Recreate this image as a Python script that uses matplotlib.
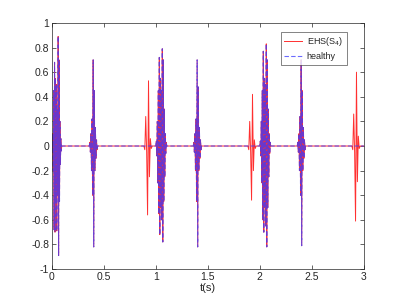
"""EHS (S4) vs healthy heart-sound waveform, MATLAB-style figure."""

import matplotlib
matplotlib.use("Agg")
import matplotlib.pyplot as plt
import numpy as np
from matplotlib.ticker import FuncFormatter

# Burst windows (s) and oscillation peaks.
# S1 bursts (shared by both signals)
S1_WINDOWS = [(0.0, 0.095), (1.0, 1.105), (2.0, 2.105)]
S1_PEAKS = [
    [0.0, -0.05, 0.1, -0.2, 0.45, -0.68, 0.68, -0.7, 0.55, -0.45, 0.5, -0.69,
     0.3, -0.4, 0.89, -0.89, 0.7, -0.45, 0.2, -0.15, 0.06, -0.04, 0.0],
    [0.0, 0.04, -0.08, 0.2, -0.3, 0.45, -0.55, 0.72, -0.72, 0.55, -0.5, 0.45,
     -0.6, 0.79, -0.78, 0.7, -0.45, 0.3, -0.25, 0.1, -0.06, 0.03, 0.0],
    [0.0, 0.04, -0.08, 0.2, -0.3, 0.45, -0.6, 0.77, -0.7, 0.55, -0.5, 0.5,
     -0.65, 0.83, -0.82, 0.7, -0.5, 0.3, -0.25, 0.1, -0.06, 0.03, 0.0],
]
# S2 bursts (shared by both signals)
S2_WINDOWS = [(0.36, 0.44), (1.36, 1.44), (2.36, 2.44)]
S2_PEAKS = [
    [0.0, 0.03, -0.05, 0.1, -0.2, 0.22, -0.4, 0.7, -0.82, 0.45, -0.2, 0.15,
     -0.1, 0.05, -0.03, 0.0],
    [0.0, 0.03, -0.05, 0.1, -0.2, 0.22, -0.45, 0.7, -0.82, 0.48, -0.2, 0.15,
     -0.1, 0.05, -0.03, 0.0],
    [0.0, 0.03, -0.05, 0.1, -0.2, 0.24, -0.4, 0.7, -0.81, 0.45, -0.2, 0.15,
     -0.1, 0.05, -0.03, 0.0],
]
# S4 bursts (EHS only)
S4_WINDOWS = [(0.885, 0.965), (1.885, 1.965), (2.885, 2.965)]
S4_PEAKS = [
    [0.0, -0.03, 0.24, -0.05, -0.56, 0.53, -0.25, 0.06, -0.02, 0.0],
    [0.0, -0.03, 0.2, -0.05, -0.44, 0.42, -0.2, 0.05, -0.02, 0.0],
    [0.0, -0.03, 0.26, -0.05, -0.61, 0.6, -0.29, 0.08, -0.02, 0.0],
]

T_END = 3.0
X_TICKS = [0, 0.5, 1, 1.5, 2, 2.5, 3]
Y_TICKS = [-1, -0.8, -0.6, -0.4, -0.2, 0, 0.2, 0.4, 0.6, 0.8, 1]


def build_signal(windows, peaks):
    bursts = sorted(zip(windows, peaks), key=lambda b: b[0][0])
    t, y = [0.0], [0.0]
    for (t0, t1), vals in bursts:
        t.extend(np.linspace(t0, t1, len(vals)))
        y.extend(vals)
    t.append(T_END)
    y.append(0.0)
    return np.array(t), np.array(y)


t_ehs, y_ehs = build_signal(S1_WINDOWS + S2_WINDOWS + S4_WINDOWS,
                            S1_PEAKS + S2_PEAKS + S4_PEAKS)
t_h, y_h = build_signal(S1_WINDOWS + S2_WINDOWS, S1_PEAKS + S2_PEAKS)

plt.rcParams["font.family"] = ["Liberation Sans", "DejaVu Sans"]
TXT = "#262626"

fig = plt.figure(figsize=(4.02, 3.02), dpi=100)
ax = fig.add_axes([0.129, 0.109, 0.776, 0.815])

ax.plot(t_ehs, y_ehs, color="#ff3030", linewidth=0.7, label="EHS(S$_4$)")
ax.plot(t_h, y_h, color="#3a3aff", linewidth=0.8, linestyle="--",
        dashes=(4, 2), alpha=0.75, label="healthy")

ax.set_xlim(0, 3)
ax.set_ylim(-1, 1)
ax.set_xticks(X_TICKS)
ax.set_yticks(Y_TICKS)
fmt = FuncFormatter(lambda v, _: f"{v:g}")
ax.xaxis.set_major_formatter(fmt)
ax.yaxis.set_major_formatter(fmt)
ax.tick_params(direction="in", length=3, width=0.5, labelsize=7.5,
               colors=TXT, top=True, right=True, pad=2)
for s in ax.spines.values():
    s.set_linewidth(0.5)
    s.set_color(TXT)
ax.set_xlabel("t(s)", fontsize=8, color=TXT, labelpad=1)

leg = ax.legend(loc="upper right", fontsize=6.5, frameon=True, fancybox=False,
                edgecolor=TXT, handlelength=2.0, handletextpad=0.5,
                borderpad=0.4, labelspacing=0.4, borderaxespad=0.0,
                bbox_to_anchor=(0.945, 0.964))
leg.get_frame().set_linewidth(0.5)
for txt in leg.get_texts():
    txt.set_color(TXT)

fig.savefig("out.png", dpi=100)
